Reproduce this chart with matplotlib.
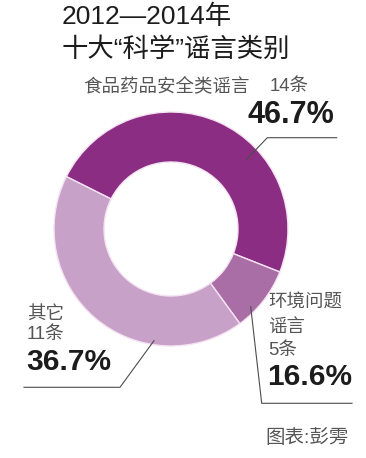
"""2012-2014 十大"科学"谣言类别 -- donut chart recreation."""

import matplotlib
matplotlib.use("Agg")
import matplotlib.pyplot as plt

# --- data -------------------------------------------------------------
categories = ["食品药品安全类谣言", "环境问题谣言", "其它"]
counts = [14, 5, 11]
percents = ["46.7%", "16.6%", "36.7%"]
# angular share of each ring segment as drawn in the reference (degrees / 360)
drawn_share = [48.6, 9.0, 42.4]
colors = ["#8b2e83", "#aa6ea7", "#c8a1c8"]

TITLE = ["2012—2014年", "十大“科学”谣言类别"]
CREDIT = "图表:彭雱"

W, H = 366, 458
FONTS = ["Liberation Sans", "Noto Sans CJK SC"]
TEXT = "#1c1c1c"
TEXT_2 = "#555555"
LINE = "#4d4d4d"

plt.rcParams["font.family"] = FONTS

fig = plt.figure(figsize=(W / 100, H / 100), dpi=100)
ax = fig.add_axes([0, 0, 1, 1])


def py(y):
    """pixel row (from top) -> data y."""
    return H - y


# ring
ax.pie(
    drawn_share,
    colors=colors,
    startangle=153.4,
    counterclock=False,
    center=(171, py(229)),
    radius=117,
    wedgeprops=dict(width=50, edgecolor="#f4e2f2", linewidth=1.0),
    frame=True,
)
ax.set_xlim(0, W)
ax.set_ylim(0, H)
ax.set_aspect("equal")
ax.axis("off")

# title
ax.text(62, py(17), TITLE[0], fontsize=19, color=TEXT, va="center")
ax.text(62, py(50), TITLE[1], fontsize=19, color=TEXT, va="center")

# food / drug label
ax.text(83, py(86), categories[0], fontsize=13.3, color=TEXT_2, va="center")
ax.text(270, py(86), f"{counts[0]}条", fontsize=13.3, color=TEXT_2, va="center")
ax.text(334, py(115), percents[0], fontsize=22, fontweight="bold",
        color=TEXT, va="center", ha="right")
ax.plot([246.7, 267.3, 336.7], [py(159.3), py(137.7), py(137.7)],
        color=LINE, lw=0.8)

# environment label
ax.text(268, py(302), categories[1][:4], fontsize=13.3, color=TEXT_2, va="center")
ax.text(268, py(327), categories[1][4:], fontsize=13.3, color=TEXT_2, va="center")
ax.text(268, py(351), f"{counts[1]}条", fontsize=13.3, color=TEXT_2, va="center")
ax.text(267, py(377), percents[1], fontsize=21.5, fontweight="bold",
        color=TEXT, va="center")
ax.plot([250.7, 261.7, 352], [py(306.7), py(403.3), py(403.3)],
        color=LINE, lw=0.8)

# other label
ax.text(27, py(314), categories[2], fontsize=13.3, color=TEXT_2, va="center")
ax.text(27, py(335), f"{counts[2]}条", fontsize=13.3, color=TEXT_2, va="center")
ax.text(26, py(362), percents[2], fontsize=21.5, fontweight="bold",
        color=TEXT, va="center")
ax.plot([154, 120, 24], [py(340.7), py(387.3), py(387.3)],
        color=LINE, lw=0.8)

# credit
ax.text(265, py(438), CREDIT, fontsize=14, color=TEXT_2, va="center")

fig.savefig("out.png", dpi=100, facecolor="white")
